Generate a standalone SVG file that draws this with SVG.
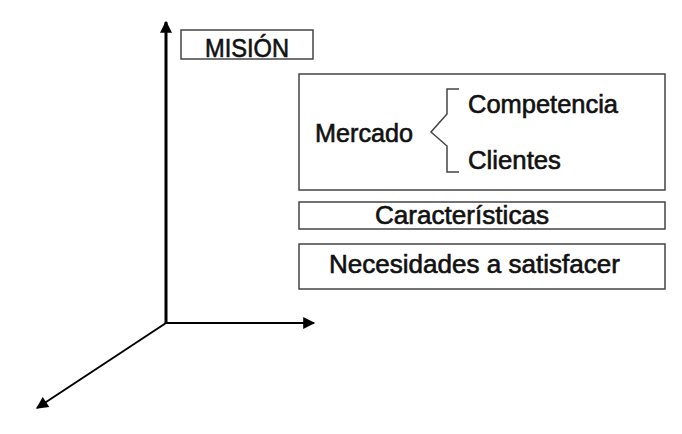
<svg xmlns="http://www.w3.org/2000/svg" width="682" height="434" viewBox="0 0 682 434">
<style>
text{font-family:"Liberation Sans",Arial,sans-serif;fill:#111;stroke:#111;stroke-width:0.6;font-size:25px}
.box{fill:#fff;stroke:#444;stroke-width:1.5}
.ax{stroke:#000;fill:none}
</style>
<defs>
<marker id="ah2" viewBox="0 0 10 10" refX="9" refY="5" markerWidth="14" markerHeight="12" markerUnits="userSpaceOnUse" orient="auto">
<path d="M0,0 L10,5 L0,10 z" fill="#000"/>
</marker>
</defs>
<rect width="682" height="434" fill="#fff"/>
<g id="axes">
<line class="ax" x1="166" y1="324" x2="166" y2="22" stroke-width="3" marker-end="url(#ah2)"/>
<line class="ax" x1="166" y1="323" x2="314" y2="323" stroke-width="2" marker-end="url(#ah2)"/>
<line class="ax" x1="166" y1="323" x2="37" y2="408" stroke-width="2" marker-end="url(#ah2)"/>
</g>
<g id="mision">
<rect class="box" x="181" y="30" width="132" height="29"/>
<text x="205" y="57" font-size="21" textLength="84" lengthAdjust="spacingAndGlyphs">MISIÓN</text>
</g>
<g id="mercado">
<rect class="box" x="299" y="74" width="366" height="116"/>
<text x="315" y="142" textLength="98" lengthAdjust="spacingAndGlyphs">Mercado</text>
<path d="M459,89 H447 V114 L431,132 L447,146 V172 H459" fill="none" stroke="#444" stroke-width="1.5"/>
<text x="468" y="113" textLength="150" lengthAdjust="spacingAndGlyphs">Competencia</text>
<text x="468" y="169" textLength="93" lengthAdjust="spacingAndGlyphs">Clientes</text>
</g>
<g id="caracteristicas">
<rect class="box" x="299" y="202" width="366" height="27"/>
<text x="375" y="224" textLength="174" lengthAdjust="spacingAndGlyphs">Características</text>
</g>
<g id="necesidades">
<rect class="box" x="299" y="244" width="366" height="45"/>
<text x="329" y="273" textLength="291" lengthAdjust="spacingAndGlyphs">Necesidades a satisfacer</text>
</g>
</svg>
